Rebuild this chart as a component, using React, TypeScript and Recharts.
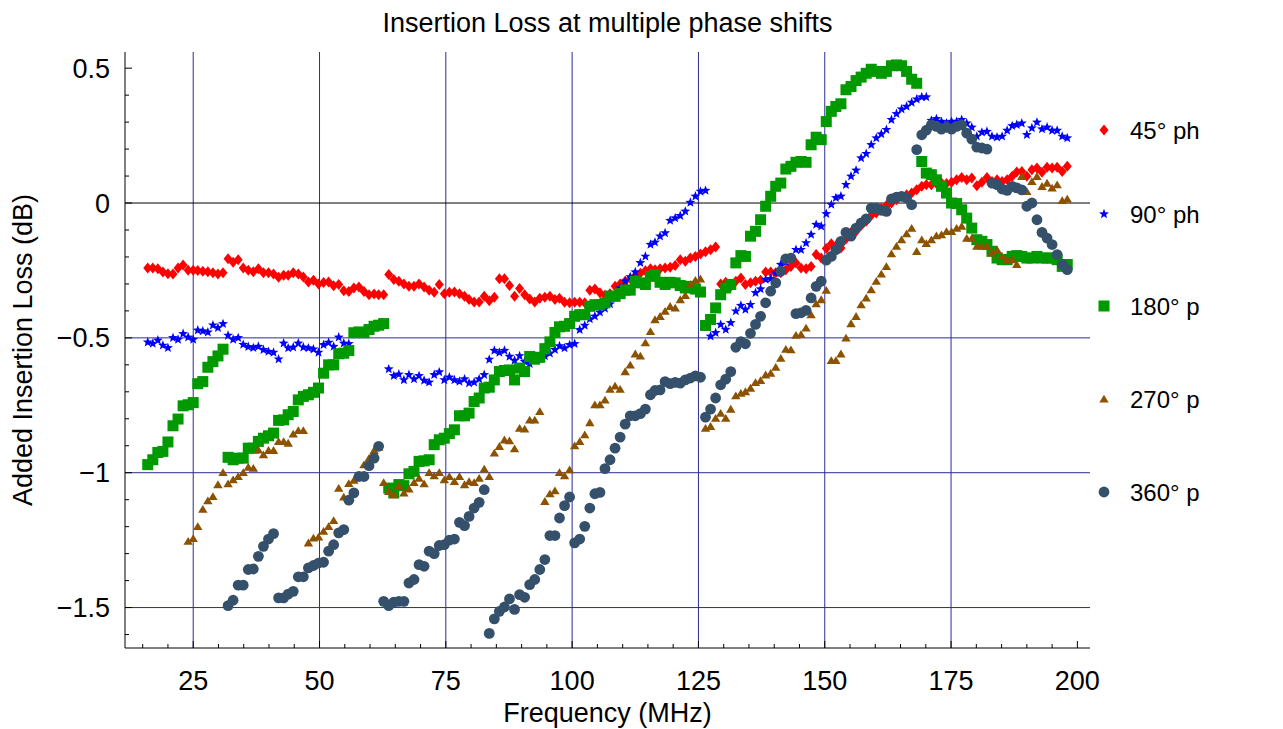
import React from 'react';
import { ScatterChart, Scatter, XAxis, YAxis, ReferenceLine } from 'recharts';

// sampled frequencies (MHz), one per measurement step
const freqs = [
  16, 17, 18, 19, 20, 21, 22, 23, 24, 25, 25.9, 26.9, 27.9, 28.9, 29.9, 30.9, 31.9, 32.9, 33.9, 34.9,
  35.9, 36.9, 37.9, 38.9, 39.9, 40.9, 41.9, 42.9, 43.8, 44.8, 45.8, 46.8, 47.8, 48.8, 49.8, 50.8, 51.8, 52.8, 53.8, 54.8,
  55.8, 56.8, 57.8, 58.8, 59.8, 60.8, 61.7, 62.7, 63.7, 64.7, 65.7, 66.7, 67.7, 68.7, 69.7, 70.7, 71.7, 72.7, 73.7, 74.7,
  75.7, 76.7, 77.7, 78.7, 79.6, 80.6, 81.6, 82.6, 83.6, 84.6, 85.6, 86.6, 87.6, 88.6, 89.6, 90.6, 91.6, 92.6, 93.6, 94.6,
  95.6, 96.6, 97.5, 98.5, 99.5, 100.5, 101.5, 102.5, 103.5, 104.5, 105.5, 106.5, 107.5, 108.5, 109.5, 110.5, 111.5, 112.5, 113.5, 114.5,
  115.5, 116.4, 117.4, 118.4, 119.4, 120.4, 121.4, 122.4, 123.4, 124.4, 125.4, 126.4, 127.4, 128.4, 129.4, 130.4, 131.4, 132.4, 133.4, 134.3,
  135.3, 136.3, 137.3, 138.3, 139.3, 140.3, 141.3, 142.3, 143.3, 144.3, 145.3, 146.3, 147.3, 148.3, 149.3, 150.3, 151.3, 152.2, 153.2, 154.2,
  155.2, 156.2, 157.2, 158.2, 159.2, 160.2, 161.2, 162.2, 163.2, 164.2, 165.2, 166.2, 167.2, 168.2, 169.2, 170.1, 171.1, 172.1, 173.1, 174.1,
  175.1, 176.1, 177.1, 178.1, 179.1, 180.1, 181.1, 182.1, 183.1, 184.1, 185.1, 186.1, 187.1, 188, 189, 190, 191, 192, 193, 194,
  195, 196, 197, 198,
];

const loss45 = [
  -0.241, -0.241, -0.244, -0.256, -0.262, -0.263, -0.241, -0.23, -0.249, -0.249, -0.25, -0.253, -0.255, -0.259, -0.263, -0.259, -0.207, -0.22, -0.21, -0.241,
  -0.249, -0.255, -0.244, -0.259, -0.259, -0.263, -0.275, -0.268, -0.268,
  -0.259, -0.263, -0.274, -0.293, -0.286, -0.3, -0.295, -0.293, -0.307, -0.302, -0.325, -0.328, -0.315, -0.311, -0.328, -0.34, -0.337, -0.34, -0.34, -0.265,
  -0.284, -0.29, -0.3, -0.309, -0.309, -0.3, -0.311, -0.323, -0.331, -0.302, -0.336, -0.331,
  -0.33, -0.336, -0.346, -0.358, -0.367, -0.367, -0.346, -0.362, -0.349, -0.281, -0.281, -0.306, -0.346, -0.317, -0.34, -0.356, -0.367, -0.353, -0.349, -0.346,
  -0.358, -0.353, -0.368, -0.37, -0.368, -0.368, -0.37, -0.323, -0.319, -0.333, -0.342, -0.336,
  -0.309, -0.3, -0.29, -0.28, -0.27, -0.26, -0.251, -0.244, -0.247, -0.244, -0.241, -0.238, -0.232, -0.21, -0.216, -0.204, -0.198, -0.189, -0.181, -0.173, -0.163,
  -0.3, -0.294, -0.309, -0.29, -0.278, -0.302, -0.296, -0.29, -0.286, -0.256, -0.256, -0.259, -0.259, -0.247, -0.235, -0.222, -0.241, -0.244, -0.235, -0.191,
  -0.204, -0.169, -0.151, -0.158, -0.167, -0.133, -0.109, -0.105, -0.083, -0.068, -0.046, -0.037, -0.019, -0.009, 0, 0.012, 0.025, 0.031, 0.037, 0.049, 0.062,
  0.068, 0.068, 0.072, 0.074, 0.072, 0.077, 0.086, 0.095, 0.086, 0.093, 0.064, 0.077, 0.095, 0.08, 0.086, 0.08, 0.086, 0.099, 0.115, 0.117,
  0.099, 0.123, 0.13, 0.114, 0.133, 0.13, 0.133, 0.117, 0.136,
];

const loss90 = [
  -0.516, -0.521, -0.509, -0.528, -0.537, -0.5, -0.506, -0.485, -0.498, -0.506, -0.472, -0.475, -0.479, -0.453, -0.463, -0.448, -0.491, -0.506, -0.5, -0.525,
  -0.533, -0.537, -0.532, -0.544, -0.551, -0.554, -0.579, -0.52, -0.538, -0.535, -0.52, -0.535, -0.538, -0.542, -0.554, -0.526, -0.517, -0.532, -0.498, -0.52, -0.522,
  null, null, null, null, null, null, null,
  -0.616, -0.641, -0.635, -0.656, -0.637, -0.653, -0.641, -0.658, -0.665, -0.637, -0.627, -0.656, -0.646,
  -0.656, -0.662, -0.653, -0.668, -0.665, -0.653, -0.637, -0.58, -0.547, -0.554, -0.547, -0.569, -0.584, -0.567, -0.588, -0.596, -0.581, -0.579, -0.567, -0.557,
  -0.544, -0.53, -0.538, -0.526, -0.522, -0.47, -0.454, -0.43, -0.42, -0.405, -0.391, -0.375,
  -0.346, -0.315, -0.29, -0.274, -0.256, -0.222, -0.198, -0.154, -0.146, -0.123, -0.111, -0.065, -0.056, -0.047, -0.031, 0.002, 0.025, 0.043, 0.046,
  -0.494, -0.481, -0.451, -0.469, -0.444, -0.401, -0.38, -0.395, -0.377, -0.333, -0.319, -0.284, -0.281,
  -0.26, -0.228, -0.22, -0.204, -0.173, -0.173, -0.148, -0.117, -0.08, -0.086, -0.04, -0.006, 0.019, 0.025, 0.068, 0.099, 0.121, 0.167, 0.183, 0.216,
  0.241, 0.256, 0.272, 0.309, 0.331, 0.348, 0.358, 0.373, 0.385, 0.393, 0.393,
  0.306, 0.312, 0.302, 0.296, 0.302, 0.302, 0.309, 0.296, 0.281, 0.247, 0.262, 0.265, 0.247, 0.244, 0.247, 0.269, 0.286, 0.29, 0.296, 0.253,
  0.278, 0.299, 0.274, 0.281, 0.269, 0.269, 0.247, 0.241,
];

const loss180 = [
  -0.97, -0.952, -0.925, -0.921, -0.886, -0.826, -0.801, -0.752, -0.748, -0.74, -0.67, -0.662, -0.609, -0.588, -0.567, -0.542,
  -0.943, -0.952, -0.946, -0.946, -0.909, -0.909, -0.884, -0.872, -0.863, -0.853, -0.806, -0.804, -0.785,
  -0.773, -0.73, -0.717, -0.711, -0.702, -0.686, -0.631, -0.6, -0.6, -0.559, -0.557, -0.547, -0.481, -0.478, -0.481, -0.469, -0.457, -0.453, -0.447,
  -1.057, -1.075, -1.044, -1.048, -1.004, -0.995, -0.958, -0.956, -0.952, -0.896, -0.878, -0.872, -0.855,
  -0.841, -0.789, -0.789, -0.779, -0.736, -0.723, -0.686, -0.683, -0.656, -0.625, -0.621, -0.619, -0.656, -0.612, -0.625, -0.569, -0.579, -0.572, -0.54, -0.515, -0.48,
  -0.459, -0.457, -0.447, -0.42, -0.414, -0.414, -0.383, -0.377, -0.377, -0.37, -0.345,
  -0.346, -0.336, -0.323, -0.323, -0.29, -0.296, -0.302, -0.272, -0.265, -0.294, -0.302, -0.294, -0.296, -0.306, -0.315, -0.309, -0.319, -0.33,
  -0.454, -0.432, -0.389, -0.34, -0.315, -0.302, -0.222, -0.195, -0.198, -0.123, -0.105, -0.062, -0.012, 0.025, 0.062, 0.074, 0.126, 0.136, 0.151, 0.154,
  0.151, 0.216, 0.244, 0.235, 0.302, 0.34, 0.358, 0.368, 0.42, 0.432, 0.454, 0.467, 0.481, 0.496, 0.488, 0.481, 0.488, 0.509, 0.512, 0.509,
  0.488, 0.459, 0.444,
  0.154, 0.111, 0.105, 0.086, 0.062, 0.037, 0, -0.002, -0.025, -0.056, -0.093, -0.136, -0.142, -0.154, -0.179, -0.204, -0.21, -0.21, -0.198, -0.195,
  -0.198, -0.204, -0.204, -0.198, -0.204, -0.204, -0.204, -0.21, -0.235, -0.228,
];

const loss270 = [
  null, null, null, null, null, null, null, null,
  -1.254, -1.244, -1.199, -1.135, -1.104, -1.088, -1.044, -0.999, -1.041, -1.026, -1.014, -0.999, -0.979, -0.983, -0.915, -0.933, -0.917, -0.917, -0.884, -0.884, -0.89,
  -0.856, -0.843, -0.843,
  -1.26, -1.242, -1.238, -1.217, -1.199, -1.177, -1.057, -1.09, -1.04, -1.028, -1.014, -0.97, -0.946, -0.917, -0.905,
  -1.036, -1.069, -1.081, -1.048, -1.075, -1.06, -1.036, -1.02, -1.041, -0.999, -1.011, -0.999, -1.026, -1.014,
  -1.032, -1.014, -1.044, -1.032, -1.036, -1.02, -0.986, -1.014, -0.927, -0.902, -0.878, -0.881, -0.911, -0.835, -0.838, -0.804, -0.804, -0.773,
  -1.106, -1.078, -1.067, -0.999, -1.011, -0.989, -0.9, -0.884, -0.859, -0.814, -0.748, -0.748, -0.73, -0.69,
  -0.678, -0.69, -0.625, -0.6, -0.559, -0.567, -0.518, -0.476, -0.432, -0.42, -0.401, -0.383, -0.389, -0.358, -0.343, -0.302, -0.286, -0.281,
  -0.835, -0.828, -0.798, -0.779, -0.798, -0.764, -0.714, -0.705, -0.699, -0.686, -0.665, -0.658, -0.637, -0.631,
  -0.609, -0.575, -0.542, -0.544, -0.49, -0.487, -0.463, -0.414, -0.373, -0.358, -0.323,
  -0.584, -0.584, -0.559, -0.5, -0.447, -0.42, -0.377, -0.352, -0.321, -0.29, -0.263, -0.235, -0.188, -0.16, -0.136, -0.114, -0.093,
  -0.179, -0.136, -0.15, -0.136, -0.121, -0.117, -0.105, -0.105, -0.093, -0.086, -0.13, -0.13, -0.16, -0.16, -0.16, -0.185, -0.173, -0.198, -0.21, -0.21,
  -0.228, 0.099, 0.043, 0.08, 0.099, 0.062, 0.074, 0.056, 0.068, 0.01, 0.015,
];

const loss360 = [
  null, null, null, null, null, null, null, null, null, null, null, null, null, null, null, null,
  -1.493, -1.473, -1.417, -1.417, -1.359, -1.357, -1.31, -1.273, -1.246, -1.226, -1.464, -1.464, -1.45,
  -1.44, -1.386, -1.386, -1.353, -1.344, -1.335, -1.332, -1.291, -1.267, -1.223, -1.211, -1.102, -1.075, -1.014, -1.014, -0.974, -0.946, -0.902,
  -1.477, -1.493, -1.48, -1.477, -1.477, -1.409, -1.396, -1.341, -1.347, -1.291, -1.3, -1.27, -1.267, -1.25, -1.246, -1.184, -1.196, -1.162, -1.131, -1.11, -1.063,
  -1.596, -1.542, -1.514, -1.498, -1.468, -1.507, -1.452, -1.462, -1.415, -1.396, -1.359, -1.322, -1.233, -1.233, -1.168, -1.122, -1.09,
  -1.26, -1.246, -1.199, -1.131, -1.078, -1.073, -0.985, -0.952,
  -0.909, -0.868, -0.82, -0.789, -0.789, -0.781, -0.764, -0.711, -0.695, -0.693, -0.662, -0.67, -0.665, -0.668, -0.656, -0.649, -0.641, -0.646,
  -0.794, -0.764, -0.723, -0.674, -0.653, -0.625, -0.535, -0.514, -0.522, -0.483, -0.45, -0.42, -0.37, -0.327, -0.296, -0.253, -0.207, -0.204,
  -0.41, -0.407, -0.398, -0.352, -0.309, -0.29, -0.212, -0.198, -0.173, -0.142, -0.109, -0.123, -0.093, -0.074, -0.059, -0.019, -0.019, -0.027, -0.031, 0.015,
  0.022, 0.025, 0.019, -0.006,
  0.198, 0.253, 0.27, 0.29, 0.284, 0.274, 0.281, 0.274, 0.284, 0.29, 0.259, 0.237, 0.207, 0.204, 0.2, 0.074, 0.068, 0.052, 0.047, 0.062,
  0.056, 0.049, -0.012, 0, -0.062, -0.109, -0.13, -0.154, -0.191, -0.228, -0.247,
];

const xTicks = [15, 20, 25, 30, 35, 40, 45, 50, 55, 60, 65, 70, 75, 80, 85, 90, 95, 100, 105, 110, 115, 120, 125, 130, 135, 140, 145, 150, 155, 160, 165, 170, 175, 180, 185, 190, 195, 200];
const xMajorTicks = [25, 50, 75, 100, 125, 150, 175, 200];
const xGridLines = [25, 50, 75, 100, 125, 150, 175];
const yTicks = [-1.6, -1.5, -1.4, -1.3, -1.2, -1.1, -1, -0.9, -0.8, -0.7, -0.6, -0.5, -0.4, -0.3, -0.2, -0.1, 0, 0.1, 0.2, 0.3, 0.4, 0.5];
const yMajorTicks = [-1.5, -1, -0.5, 0, 0.5];
const yGridLines = [-1.5, -1, -0.5];

const FONT = '"Liberation Sans", Arial, Helvetica, sans-serif';
const GRID = '#2c2c94';
const TICK_FONT = 27;

const isMajorY = (v: number) => yMajorTicks.some((m) => Math.abs(m - v) < 1e-6);
const fmtY = (v: number) => String(v).replace('-', '\u2212');

const toPoints = (vals: (number | null)[]) =>
  freqs.map((f, i) => ({ x: f, y: vals[i] })).filter((p) => p.y !== null);

// marker shapes
const Diamond = ({ cx, cy, fill }: any) => (
  <polygon points={`${cx},${cy - 5.5} ${cx + 4.5},${cy} ${cx},${cy + 5.5} ${cx - 4.5},${cy}`} fill={fill} />
);
const Star = ({ cx, cy, fill }: any) => {
  const pts: string[] = [];
  for (let k = 0; k < 10; k++) {
    const a = ((-90 + k * 36) * Math.PI) / 180;
    const r = k % 2 === 0 ? 5.2 : 2.2;
    pts.push(`${cx + r * Math.cos(a)},${cy + r * Math.sin(a)}`);
  }
  return <polygon points={pts.join(' ')} fill={fill} />;
};
const Square = ({ cx, cy, fill }: any) => <rect x={cx - 5.5} y={cy - 5.5} width={11} height={11} fill={fill} />;
const Triangle = ({ cx, cy, fill }: any) => (
  <polygon points={`${cx},${cy - 4.2} ${cx + 4.7},${cy + 3.6} ${cx - 4.7},${cy + 3.6}`} fill={fill} />
);
const Dot = ({ cx, cy, fill }: any) => <circle cx={cx} cy={cy} r={5.4} fill={fill} />;

const series = [
  { name: '45° ph', values: loss45, color: '#ff0000', Shape: Diamond },
  { name: '90° ph', values: loss90, color: '#0000ff', Shape: Star },
  { name: '180° p', values: loss180, color: '#009900', Shape: Square },
  { name: '270° p', values: loss270, color: '#8c5200', Shape: Triangle },
  { name: '360° p', values: loss360, color: '#35506b', Shape: Dot },
];
const legendY = [130, 214, 306, 399, 492];

// inward ticks on all four sides of the frame
const BottomTick = ({ x, y, payload }: any) => {
  const major = xMajorTicks.includes(payload.value);
  return (
    <g>
      <line x1={x} y1={y} x2={x} y2={y - (major ? 7 : 4)} stroke="#000" />
      {major && (
        <text x={x} y={y + 42} textAnchor="middle" fontSize={TICK_FONT} fontFamily={FONT} fill="#000">
          {payload.value}
        </text>
      )}
    </g>
  );
};
const TopTick = ({ x, y, payload }: any) => {
  const major = xMajorTicks.includes(payload.value);
  return <line x1={x} y1={y} x2={x} y2={y + (major ? 7 : 4)} stroke="#000" />;
};
const LeftTick = ({ x, y, payload }: any) => {
  const major = isMajorY(payload.value);
  return (
    <g>
      <line x1={x} y1={y} x2={x + (major ? 7 : 4)} y2={y} stroke="#000" />
      {major && (
        <text x={x - 15} y={y + 9.5} textAnchor="end" fontSize={TICK_FONT} fontFamily={FONT} fill="#000">
          {fmtY(payload.value)}
        </text>
      )}
    </g>
  );
};
const RightTick = ({ x, y, payload }: any) => {
  const major = isMajorY(payload.value);
  return <line x1={x} y1={y} x2={x - (major ? 7 : 4)} y2={y} stroke="#000" />;
};

export default function App() {
  return (
    <div style={{ position: 'relative', width: 1283, height: 729, overflow: 'hidden', background: '#fff', fontFamily: FONT }}>
      <style>{'body{margin:0;}'}</style>
      <ScatterChart width={1283} height={729} margin={{ top: 52, right: 193, bottom: 0, left: 0 }}>
        <XAxis
          xAxisId="b"
          type="number"
          dataKey="x"
          domain={[11.5, 202.5]}
          allowDataOverflow
          ticks={xTicks}
          interval={0}
          tick={<BottomTick />}
          tickSize={0}
          tickMargin={0}
          tickLine={false}
          axisLine={{ stroke: '#000' }}
          height={81}
          label={{ value: 'Frequency (MHz)', position: 'insideBottom', offset: 7, fontSize: 27, fill: '#000', fontFamily: FONT }}
        />
        <XAxis
          xAxisId="t"
          orientation="top"
          type="number"
          dataKey="x"
          domain={[11.5, 202.5]}
          allowDataOverflow
          ticks={xTicks}
          interval={0}
          tick={<TopTick />}
          tickSize={0}
          tickMargin={0}
          tickLine={false}
          axisLine={{ stroke: '#000' }}
          height={0}
        />
        <YAxis
          yAxisId="l"
          type="number"
          dataKey="y"
          domain={[-1.65, 0.56]}
          allowDataOverflow
          ticks={yTicks}
          interval={0}
          tick={<LeftTick />}
          tickSize={0}
          tickMargin={0}
          tickLine={false}
          axisLine={{ stroke: '#000' }}
          width={125}
          label={{
            value: 'Added Insertion Loss (dB)',
            angle: -90,
            position: 'insideLeft',
            offset: 22,
            fontSize: 27,
            fill: '#000',
            fontFamily: FONT,
            style: { textAnchor: 'middle' },
          }}
        />
        <YAxis
          yAxisId="r"
          orientation="right"
          type="number"
          dataKey="y"
          domain={[-1.65, 0.56]}
          allowDataOverflow
          ticks={yTicks}
          interval={0}
          tick={<RightTick />}
          tickSize={0}
          tickMargin={0}
          tickLine={false}
          axisLine={{ stroke: '#000' }}
          width={0}
        />
        {xGridLines.map((v) => (
          <ReferenceLine key={`gx${v}`} xAxisId="b" yAxisId="l" x={v} stroke={GRID} strokeWidth={1} />
        ))}
        {yGridLines.map((v) => (
          <ReferenceLine key={`gy${v}`} xAxisId="b" yAxisId="l" y={v} stroke={GRID} strokeWidth={1} />
        ))}
        <ReferenceLine xAxisId="b" yAxisId="l" y={0} stroke="#000" strokeWidth={1} />
        {series.map((s) => (
          <Scatter
            key={s.name}
            name={s.name}
            xAxisId="b"
            yAxisId="l"
            data={toPoints(s.values)}
            fill={s.color}
            shape={(p: any) => <s.Shape cx={p.cx} cy={p.cy} fill={s.color} />}
            isAnimationActive={false}
          />
        ))}
      </ScatterChart>
      <svg
        width={1283}
        height={729}
        style={{ position: 'absolute', left: 0, top: 0, pointerEvents: 'none' }}
      >
        <text x={607.5} y={32} textAnchor="middle" fontSize={27} fontFamily={FONT} fill="#000">
          Insertion Loss at multiple phase shifts
        </text>
        {series.map((s, i) => (
          <g key={s.name}>
            <s.Shape cx={1104} cy={legendY[i]} fill={s.color} />
            <text x={1130} y={legendY[i] + 9} fontSize={24} fontFamily={FONT} fill="#000">
              {s.name}
            </text>
          </g>
        ))}
      </svg>
    </div>
  );
}
